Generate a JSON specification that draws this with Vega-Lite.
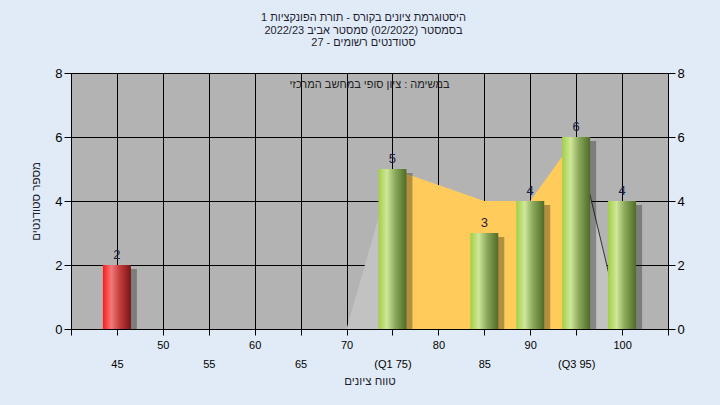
{
  "$schema": "https://vega.github.io/schema/vega-lite/v6.json",
  "width": 597,
  "height": 256,
  "autosize": {"type": "none"},
  "padding": {"left": 71, "top": 73, "right": 52, "bottom": 76},
  "background": "#e1ebf7",
  "config": {
    "font": "Liberation Sans",
    "view": {"fill": "#b3b3b3", "stroke": null}
  },
  "title": {
    "text": ["היסטוגרמת ציונים בקורס - תורת הפונקציות 1", "בסמסטר  (02/2022)  סמסטר אביב 2022/23", "סטודנטים רשומים - 27"],
    "fontSize": 11,
    "fontWeight": "normal",
    "color": "#1e1e2e",
    "lineHeight": 12.5,
    "offset": 19,
    "dx": -6,
    "anchor": "middle"
  },
  "datasets": {
    "bars": [
      {"x": 45, "y": 2, "kind": "low"},
      {"x": 75, "y": 5, "kind": "ok"},
      {"x": 85, "y": 3, "kind": "ok"},
      {"x": 90, "y": 4, "kind": "ok"},
      {"x": 95, "y": 6, "kind": "ok"},
      {"x": 100, "y": 4, "kind": "ok"}
    ],
    "side": [
      {"x": 70, "y": 0, "seg": "a"},
      {"x": 75, "y": 5, "seg": "a"},
      {"x": 95, "y": 6, "seg": "b"},
      {"x": 100, "y": 0, "seg": "b"}
    ],
    "mid": [
      {"x": 75, "y": 5},
      {"x": 85, "y": 4},
      {"x": 90, "y": 4},
      {"x": 95, "y": 6}
    ],
    "note": [{"label": "במשימה : ציון סופי במחשב המרכזי"}]
  },
  "layer": [
    {
      "data": {"name": "side"},
      "transform": [{"filter": "datum.seg == 'a'"}],
      "mark": {"type": "area", "color": "#c2c2c2", "opacity": 1},
      "encoding": {
        "x": {
          "field": "x", "type": "quantitative",
          "scale": {"domain": [40, 105], "nice": false, "zero": false, "padding": 0},
          "axis": {
            "values": [40, 45, 50, 55, 60, 65, 70, 75, 80, 85, 90, 95, 100, 105],
            "grid": true, "gridColor": "#000000", "gridOpacity": 1, "gridWidth": 1,
            "domain": true, "domainColor": "#000000",
            "tickColor": "#000000", "tickSize": 6,
            "labelExpr": "datum.value == 40 || datum.value == 105 ? '' : datum.value == 75 ? ['', '(Q1 75)'] : datum.value == 95 ? ['', '(Q3 95)'] : datum.value % 10 == 5 ? ['', datum.label] : datum.label",
            "labelColor": "#000000", "labelFontSize": 11, "labelLineHeight": 19,
            "labelPadding": 4, "labelOverlap": false, "labelBound": false, "labelFlush": false,
            "title": "טווח ציונים", "titleFontSize": 11.5, "titleFontWeight": "normal",
            "titleColor": "#1e1e2e", "titlePadding": 6
          }
        },
        "y": {
          "field": "y", "type": "quantitative",
          "scale": {"domain": [0, 8], "nice": false},
          "axis": {
            "values": [0, 2, 4, 6, 8],
            "grid": true, "gridColor": "#000000", "gridOpacity": 1, "gridWidth": 1,
            "domain": true, "domainColor": "#000000",
            "tickColor": "#000000", "tickSize": 7,
            "labelColor": "#000000", "labelFontSize": 13, "labelPadding": 2,
            "title": "מספר סטודנטים", "titleFontSize": 11.5, "titleFontWeight": "normal",
            "titleColor": "#1e1e2e", "titlePadding": 13
          }
        }
      }
    },
    {
      "data": {"name": "side"},
      "transform": [{"filter": "datum.seg == 'b'"}],
      "mark": {"type": "area", "color": "#c2c2c2", "opacity": 1},
      "encoding": {
        "x": {"field": "x", "type": "quantitative"},
        "y": {"field": "y", "type": "quantitative", "axis": null}
      }
    },
    {
      "data": {"name": "mid"},
      "mark": {"type": "area", "color": "#ffcc5c", "opacity": 1},
      "encoding": {
        "x": {"field": "x", "type": "quantitative"},
        "y": {"field": "y", "type": "quantitative", "axis": null}
      }
    },
    {
      "data": {"name": "side"},
      "transform": [{"filter": "datum.seg == 'b'"}],
      "mark": {"type": "line", "color": "#333333", "strokeWidth": 1},
      "encoding": {
        "x": {"field": "x", "type": "quantitative"},
        "y": {"field": "y", "type": "quantitative", "axis": null}
      }
    },
    {
      "data": {"name": "bars"},
      "mark": {"type": "bar", "width": 28, "color": "#000000", "opacity": 0.3, "xOffset": 6, "yOffset": 4, "clip": true},
      "encoding": {
        "x": {"field": "x", "type": "quantitative"},
        "y": {"field": "y", "type": "quantitative", "axis": null}
      }
    },
    {
      "data": {"name": "bars"},
      "transform": [{"filter": "datum.kind == 'ok'"}],
      "mark": {
        "type": "bar", "width": 28,
        "color": {
          "gradient": "linear", "x1": 0, "x2": 1, "y1": 0, "y2": 0,
          "stops": [
            {"offset": 0, "color": "#a2cf45"},
            {"offset": 0.3, "color": "#cfe79a"},
            {"offset": 0.6, "color": "#8aa85a"},
            {"offset": 1, "color": "#4f6b26"}
          ]
        }
      },
      "encoding": {
        "x": {"field": "x", "type": "quantitative"},
        "y": {"field": "y", "type": "quantitative", "axis": null}
      }
    },
    {
      "data": {"name": "bars"},
      "transform": [{"filter": "datum.kind == 'low'"}],
      "mark": {
        "type": "bar", "width": 28,
        "color": {
          "gradient": "linear", "x1": 0, "x2": 1, "y1": 0, "y2": 0,
          "stops": [
            {"offset": 0, "color": "#ff1a1a"},
            {"offset": 0.3, "color": "#f07a7a"},
            {"offset": 0.6, "color": "#c43c3c"},
            {"offset": 1, "color": "#7a1515"}
          ]
        }
      },
      "encoding": {
        "x": {"field": "x", "type": "quantitative"},
        "y": {"field": "y", "type": "quantitative", "axis": null}
      }
    },
    {
      "data": {"name": "bars"},
      "mark": {"type": "text", "baseline": "bottom", "dy": -3, "fontSize": 13, "color": "#1c1c3c"},
      "encoding": {
        "x": {"field": "x", "type": "quantitative"},
        "y": {"field": "y", "type": "quantitative", "axis": null},
        "text": {"field": "y", "type": "quantitative"}
      }
    },
    {
      "data": {"name": "note"},
      "mark": {"type": "text", "fontSize": 11, "color": "#222222", "baseline": "middle", "align": "center"},
      "encoding": {
        "x": {"datum": 72.5, "type": "quantitative"},
        "y": {"datum": 7.62, "type": "quantitative", "axis": null},
        "text": {"field": "label"}
      }
    },
    {
      "data": {"name": "bars"},
      "mark": {"type": "point", "opacity": 0},
      "encoding": {
        "x": {"field": "x", "type": "quantitative"},
        "y": {
          "field": "y", "type": "quantitative",
          "axis": {
            "orient": "right", "values": [0, 2, 4, 6, 8], "grid": false,
            "domain": true, "domainColor": "#000000",
            "tickColor": "#000000", "tickSize": 7,
            "labelColor": "#000000", "labelFontSize": 13, "labelPadding": 2,
            "title": null
          }
        }
      }
    }
  ],
  "resolve": {"axis": {"y": "independent"}}
}
